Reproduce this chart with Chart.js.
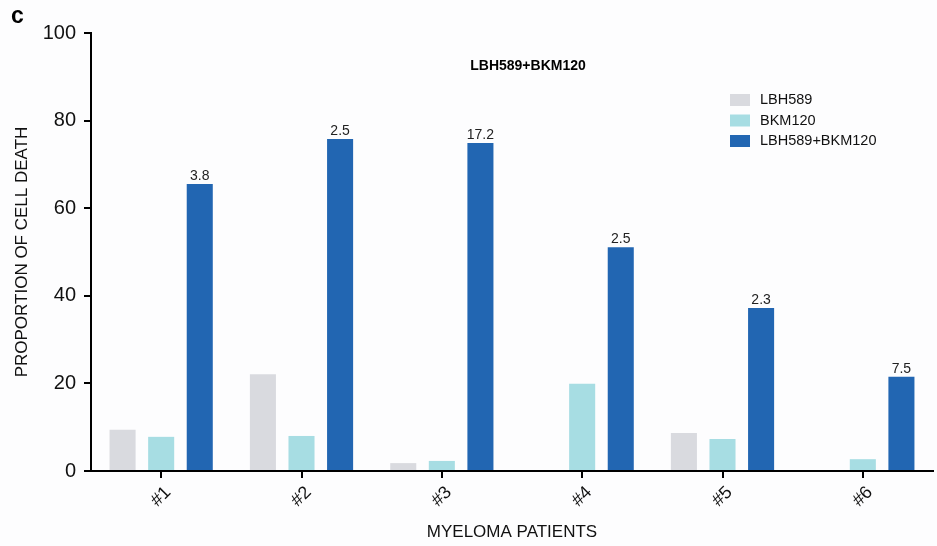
<!DOCTYPE html>
<html>
<head>
<meta charset="utf-8">
<script src="https://cdn.jsdelivr.net/npm/chart.js@4.4.0/dist/chart.umd.min.js"></script>
<style>
  html, body { margin: 0; padding: 0; background: #fdfdfe; }
  #wrap { width: 937px; height: 546px; position: relative; }
</style>
</head>
<body>
<div id="wrap"><canvas id="cell-death"></canvas></div>
<script>
const patients = ['#1', '#2', '#3', '#4', '#5', '#6'];
const lbh589 = [9.4, 22.1, 1.8, 0, 8.7, 0];
const bkm120 = [7.8, 8.0, 2.3, 19.9, 7.3, 2.7];
const combo = [65.5, 75.8, 74.9, 51.1, 37.2, 21.5];
const comboLabels = ['3.8', '2.5', '17.2', '2.5', '2.3', '7.5'];
const seriesNames = ['LBH589', 'BKM120', 'LBH589+BKM120'];
const seriesColors = ['#d9dadf', '#a7dde3', '#2266b2'];

const FONT = '"Liberation Sans", Arial, sans-serif';

// value labels above the combination bars, legend, title and panel letter
const extras = {
    id: 'extras',
    afterDatasetsDraw(chart) {
        const ctx = chart.ctx;
        const meta = chart.getDatasetMeta(2);
        ctx.save();
        ctx.fillStyle = '#222';
        ctx.font = '14px ' + FONT;
        ctx.textAlign = 'center';
        ctx.textBaseline = 'bottom';
        meta.data.forEach((bar, i) => {
            ctx.fillText(comboLabels[i], bar.x, bar.y - 1);
        });

        // panel letter
        ctx.fillStyle = '#000';
        ctx.font = 'bold 23px ' + FONT;
        ctx.textAlign = 'left';
        ctx.textBaseline = 'middle';
        ctx.fillText('c', 11, 17);

        // chart title
        ctx.font = 'bold 14px ' + FONT;
        ctx.textAlign = 'center';
        ctx.fillText('LBH589+BKM120', 528, 66);

        // legend
        ctx.font = '14.5px ' + FONT;
        ctx.textAlign = 'left';
        seriesNames.forEach((name, i) => {
            const y = 100 + i * 20.5;
            ctx.fillStyle = seriesColors[i];
            ctx.fillRect(730, y - 6, 20, 12);
            ctx.fillStyle = '#111';
            ctx.fillText(name, 760, y);
        });
        ctx.restore();
    }
};

const ctx = document.getElementById('cell-death').getContext('2d');
new Chart(ctx, {
    type: 'bar',
    data: {
        labels: patients,
        datasets: seriesNames.map((name, i) => ({
            label: name,
            data: [lbh589, bkm120, combo][i],
            backgroundColor: seriesColors[i],
            borderWidth: 0,
            categoryPercentage: 0.825,
            barPercentage: 0.675,
        }))
    },
    options: {
        responsive: true,
        maintainAspectRatio: false,
        animation: false,
        layout: { padding: { top: 33, right: 4, left: 0, bottom: 0 } },
        plugins: {
            legend: { display: false },
            tooltip: { enabled: false },
        },
        scales: {
            x: {
                grid: {
                    display: true,
                    drawOnChartArea: false,
                    offset: false,
                    tickLength: 7,
                    color: '#000',
                    lineWidth: 2,
                },
                border: { display: true, color: '#000', width: 2 },
                ticks: {
                    color: '#111',
                    font: { family: FONT, size: 18 },
                    minRotation: 45,
                    maxRotation: 45,
                    padding: 4,
                    labelOffset: 7,
                },
                title: {
                    display: true,
                    text: 'MYELOMA PATIENTS',
                    color: '#111',
                    font: { family: FONT, size: 17 },
                    padding: { top: 0, bottom: 3 },
                },
                afterFit(scale) { scale.height = 75; },
            },
            y: {
                min: 0,
                max: 100,
                grid: {
                    display: true,
                    drawOnChartArea: false,
                    tickLength: 7,
                    color: '#000',
                    lineWidth: 2,
                },
                border: { display: true, color: '#000', width: 2 },
                ticks: {
                    stepSize: 20,
                    color: '#111',
                    font: { family: FONT, size: 20 },
                    padding: 8,
                },
                title: {
                    display: true,
                    text: 'PROPORTION OF CELL DEATH',
                    color: '#111',
                    font: { family: FONT, size: 17 },
                    padding: { top: 12, bottom: 4 },
                },
                afterFit(scale) { scale.width = 91; },
            },
        },
    },
    plugins: [extras],
});
</script>
</body>
</html>
